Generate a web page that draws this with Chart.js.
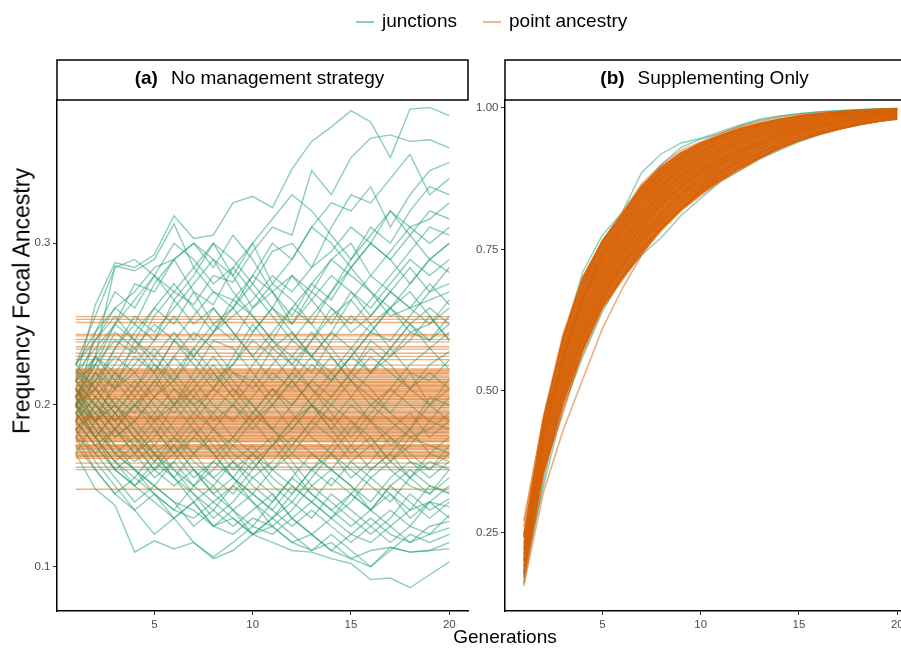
<!DOCTYPE html>
<html>
<head>
<meta charset="utf-8">
<script src="https://cdn.jsdelivr.net/npm/chart.js@4.4.1/dist/chart.umd.min.js"></script>
<style>
html, body { margin: 0; padding: 0; background: #fff; overflow: hidden; }
#fig { position: relative; width: 901px; height: 648px; overflow: hidden; font-family: "Liberation Sans", Arial, sans-serif; color: #000; }
#fig canvas { position: absolute; top: 0; }
#chartA { left: 0; }
#chartB { left: 470px; }
.key { position: absolute; top: 21px; width: 18px; height: 0; border-top: 2px solid; }
.lab { position: absolute; top: 9px; font-size: 19px; line-height: 24px; white-space: nowrap; }
#ytitle { position: absolute; left: 22px; top: 301px; transform: translate(-50%, -50%) rotate(-90deg); font-size: 23px; white-space: nowrap; }
#xtitle { position: absolute; left: 505px; top: 637px; transform: translate(-50%, -50%); font-size: 19px; white-space: nowrap; }
</style>
</head>
<body>
<div id="fig">
  <canvas id="chartA" width="470" height="648"></canvas>
  <canvas id="chartB" width="460" height="648"></canvas>
  <div class="key" style="left:356px;border-color:rgba(27,158,119,0.5)"></div>
  <div class="lab" style="left:382px">junctions</div>
  <div class="key" style="left:483px;border-color:rgba(217,95,2,0.45)"></div>
  <div class="lab" style="left:509px">point ancestry</div>
  <div id="ytitle">Frequency Focal Ancestry</div>
  <div id="xtitle">Generations</div>
</div>
<script>
// generations on the x axis
const generations = [1, 2, 3, 4, 5, 6, 7, 8, 9, 10, 11, 12, 13, 14, 15, 16, 17, 18, 19, 20];
const xTicks = [5, 10, 15, 20];

const yTicksA = [0.1, 0.2, 0.3];
const yTickLabelsA = ['0.1', '0.2', '0.3'];
const yTicksB = [0.25, 0.5, 0.75, 1.0];
const yTickLabelsB = ['0.25', '0.50', '0.75', '1.00'];

// (a) No management strategy - junctions, one row per replicate
const junctionsA = [
    [.215,.262,.288,.285,.293,.317,.303,.305,.325,.329,.322,.346,.363,.372,.382,.375,.353,.383,.384,.379],
    [.205,.225,.240,.232,.255,.270,.262,.280,.276,.295,.310,.305,.345,.330,.353,.365,.367,.363,.364,.359],
    [.198,.230,.286,.283,.290,.312,.285,.270,.265,.280,.300,.290,.310,.325,.320,.335,.310,.330,.345,.350],
    [.222,.210,.235,.250,.240,.265,.280,.300,.290,.275,.295,.300,.285,.310,.330,.325,.340,.355,.330,.340],
    [.190,.220,.210,.240,.260,.250,.270,.262,.285,.300,.275,.290,.310,.300,.285,.300,.320,.310,.315,.325],
    [.215,.240,.260,.250,.275,.290,.270,.250,.260,.245,.260,.280,.270,.290,.300,.280,.295,.310,.300,.310],
    [.200,.190,.215,.230,.220,.240,.255,.270,.260,.280,.270,.255,.275,.265,.285,.300,.290,.275,.290,.300],
    [.205,.225,.250,.275,.270,.290,.300,.285,.305,.290,.270,.280,.265,.250,.270,.260,.275,.290,.280,.290],
    [.185,.200,.220,.210,.230,.215,.235,.250,.240,.260,.275,.265,.250,.270,.285,.270,.260,.275,.290,.282],
    [.210,.200,.190,.205,.220,.240,.230,.215,.225,.245,.260,.250,.270,.260,.245,.255,.270,.285,.270,.275],
    [.200,.215,.230,.220,.205,.215,.230,.245,.265,.255,.240,.225,.240,.255,.265,.280,.270,.260,.265,.270],
    [.225,.245,.270,.260,.280,.265,.250,.260,.245,.230,.245,.260,.275,.290,.280,.270,.255,.260,.275,.262],
    [.195,.180,.195,.210,.225,.215,.200,.210,.230,.250,.235,.245,.230,.220,.235,.250,.260,.245,.240,.255],
    [.205,.230,.215,.200,.210,.230,.245,.235,.220,.210,.225,.240,.230,.245,.265,.250,.235,.250,.260,.250],
    [.170,.190,.205,.195,.215,.230,.215,.200,.190,.205,.220,.210,.225,.215,.230,.220,.235,.250,.235,.245],
    [.215,.200,.185,.200,.190,.175,.190,.205,.220,.215,.200,.215,.230,.245,.235,.220,.230,.240,.255,.240],
    [.190,.205,.220,.235,.250,.240,.225,.210,.200,.215,.235,.225,.210,.200,.215,.230,.220,.210,.225,.233],
    [.200,.220,.245,.235,.220,.200,.210,.190,.200,.185,.200,.215,.200,.190,.205,.220,.235,.220,.215,.228],
    [.210,.195,.210,.225,.240,.255,.240,.260,.245,.230,.215,.230,.245,.230,.215,.200,.210,.225,.235,.222],
    [.180,.170,.185,.200,.185,.170,.180,.195,.210,.200,.185,.200,.215,.205,.220,.235,.225,.210,.200,.216],
    [.225,.240,.255,.240,.225,.210,.195,.210,.225,.240,.230,.215,.200,.185,.200,.190,.205,.220,.200,.210],
    [.200,.185,.170,.180,.195,.210,.200,.185,.175,.190,.205,.220,.210,.195,.180,.195,.210,.200,.190,.205],
    [.215,.230,.220,.205,.190,.200,.215,.230,.215,.200,.185,.175,.190,.205,.220,.210,.195,.185,.205,.200],
    [.190,.175,.160,.170,.185,.170,.155,.165,.180,.195,.210,.195,.180,.170,.185,.200,.190,.180,.185,.195],
    [.205,.220,.200,.185,.170,.180,.195,.185,.170,.160,.175,.190,.205,.220,.205,.190,.175,.185,.200,.190],
    [.220,.205,.190,.200,.215,.200,.185,.170,.180,.195,.185,.170,.160,.175,.190,.180,.165,.175,.190,.185],
    [.195,.210,.195,.180,.165,.155,.170,.185,.200,.190,.175,.185,.200,.190,.175,.160,.170,.185,.170,.180],
    [.200,.180,.165,.150,.160,.175,.160,.145,.155,.170,.180,.165,.150,.160,.175,.190,.180,.165,.160,.175],
    [.185,.170,.155,.140,.150,.165,.180,.170,.155,.145,.160,.175,.190,.180,.165,.155,.165,.180,.175,.170],
    [.210,.195,.180,.190,.175,.160,.150,.160,.175,.165,.150,.140,.155,.170,.160,.150,.140,.155,.170,.165],
    [.205,.185,.170,.160,.145,.135,.150,.165,.155,.140,.130,.145,.160,.150,.165,.175,.160,.150,.145,.160],
    [.190,.175,.185,.170,.155,.165,.150,.140,.150,.165,.175,.160,.145,.135,.145,.160,.170,.155,.145,.155],
    [.215,.200,.185,.175,.160,.170,.185,.170,.155,.145,.135,.150,.140,.130,.140,.155,.145,.135,.140,.150],
    [.175,.160,.145,.155,.170,.160,.145,.130,.140,.155,.145,.130,.120,.130,.145,.135,.125,.135,.150,.146],
    [.200,.190,.175,.160,.150,.140,.125,.135,.150,.140,.125,.135,.150,.140,.130,.120,.130,.145,.135,.142],
    [.185,.165,.150,.135,.145,.130,.140,.125,.135,.120,.130,.140,.130,.145,.135,.125,.115,.125,.140,.137],
    [.195,.180,.165,.175,.160,.150,.160,.145,.135,.145,.135,.125,.135,.125,.115,.125,.135,.125,.120,.132],
    [.210,.190,.200,.185,.170,.155,.145,.135,.125,.135,.145,.130,.120,.110,.120,.130,.120,.115,.125,.128],
    [.170,.148,.138,.109,.116,.111,.115,.106,.115,.125,.120,.130,.140,.130,.120,.115,.125,.115,.120,.124],
    [.180,.160,.145,.135,.120,.130,.140,.125,.120,.130,.125,.115,.110,.120,.110,.100,.110,.120,.115,.120],
    [.190,.175,.160,.150,.140,.130,.115,.105,.110,.120,.130,.120,.110,.115,.105,.110,.112,.109,.110,.115],
    [.200,.180,.165,.155,.145,.135,.130,.140,.130,.120,.125,.115,.120,.110,.105,.100,.112,.109,.110,.111],
    [.205,.190,.170,.160,.150,.140,.135,.125,.130,.120,.115,.110,.109,.105,.102,.092,.093,.087,.095,.103],
    [.200,.210,.195,.180,.165,.175,.160,.150,.165,.175,.160,.150,.140,.155,.145,.135,.150,.160,.150,.145],
    [.225,.255,.285,.290,.280,.270,.285,.300,.280,.260,.270,.250,.265,.280,.270,.255,.270,.260,.250,.265],
    [.200,.245,.260,.270,.285,.290,.300,.290,.270,.255,.240,.260,.250,.235,.220,.240,.230,.245,.250,.260],
    [.195,.215,.235,.255,.245,.260,.275,.290,.280,.300,.315,.330,.320,.305,.290,.310,.300,.320,.335,.330],
    [.210,.230,.250,.265,.280,.300,.290,.275,.285,.270,.255,.240,.255,.270,.290,.305,.320,.305,.290,.300],
    [.180,.200,.185,.170,.180,.200,.220,.240,.235,.220,.205,.220,.240,.260,.250,.265,.280,.295,.310,.305],
    [.200,.180,.160,.150,.165,.180,.165,.155,.145,.160,.175,.190,.200,.215,.230,.245,.240,.255,.270,.285],
    [.225,.210,.195,.180,.170,.155,.140,.150,.135,.125,.140,.155,.170,.160,.150,.135,.145,.130,.140,.130],
    [.205,.190,.200,.215,.200,.185,.170,.155,.165,.150,.140,.155,.145,.135,.125,.135,.150,.140,.130,.140],
    [.190,.205,.190,.175,.190,.205,.190,.175,.160,.170,.155,.145,.160,.170,.155,.165,.180,.170,.160,.170],
    [.215,.225,.210,.220,.235,.220,.205,.220,.205,.190,.200,.185,.200,.185,.170,.180,.165,.155,.165,.160],
    [.200,.210,.225,.245,.260,.275,.260,.245,.260,.275,.260,.245,.230,.215,.230,.245,.260,.270,.255,.240],
    [.185,.195,.180,.190,.205,.195,.210,.225,.210,.195,.210,.200,.215,.230,.215,.205,.195,.210,.220,.210],
    [.210,.190,.175,.165,.175,.190,.205,.195,.180,.170,.160,.170,.185,.200,.190,.175,.185,.195,.180,.190],
    [.195,.180,.195,.210,.195,.180,.170,.180,.165,.155,.165,.180,.170,.160,.150,.140,.155,.165,.155,.165],
    [.220,.235,.250,.240,.230,.245,.230,.245,.255,.265,.280,.270,.285,.295,.310,.300,.290,.305,.320,.315],
    [.205,.215,.200,.190,.205,.220,.235,.220,.205,.225,.240,.230,.220,.240,.255,.245,.260,.250,.240,.250]
];

// (a) point ancestry stays flat: one level per replicate
const pointLevelsA = [
    .2546, .2530, .2510, .2437, .2427, .2406, .2390, .2360, .2345, .2320, .2300, .2280, .2247,
    .2223, .2215, .2210, .2200, .2195, .2186, .2178, .2170, .2160, .2155, .2146, .2140, .2135,
    .2126, .2120, .2115, .2105, .2098, .2090, .2085, .2078, .2068, .2062, .2055, .2050, .2041,
    .2035, .2030, .2020, .2012, .2005, .1998, .1994, .1985, .1980, .1970, .1962, .1955, .1948,
    .1938, .1930, .1924, .1918, .1915, .1907, .1900, .1895, .1887, .1880, .1875, .1866, .1860,
    .1855, .1848, .1845, .1835, .1830, .1825, .1815, .1810, .1804, .1795, .1790, .1783, .1776,
    .1772, .1755, .1748, .1742, .1735, .1728, .1722, .1712, .1705, .1698, .1690, .1685, .1680,
    .1670, .1640, .1615, .1600, .1479
];

// (b) Supplementing only - junctions
const junctionsB = [
    [.22,.45,.59,.71,.775,.815,.886,.919,.938,.946,.958,.970,.980,.986,.990,.993,.995,.997,.998,.999],
    [.20,.43,.57,.68,.765,.810,.860,.900,.930,.945,.955,.968,.978,.985,.990,.993,.995,.997,.998,.999],
    [.18,.33,.47,.56,.640,.700,.740,.771,.810,.840,.870,.890,.910,.925,.940,.952,.962,.970,.976,.980],
    [.17,.36,.48,.57,.650,.700,.755,.785,.820,.855,.884,.910,.920,.935,.948,.958,.966,.973,.978,.982],
    [.19,.41,.55,.66,.740,.790,.840,.875,.900,.922,.940,.952,.962,.970,.977,.983,.987,.990,.993,.995],
    [.16,.34,.49,.59,.665,.720,.770,.810,.845,.870,.890,.910,.928,.942,.954,.963,.970,.976,.980,.984],
    [.24,.44,.56,.67,.750,.800,.850,.885,.915,.935,.950,.962,.972,.980,.985,.989,.992,.995,.997,.998],
    [.21,.40,.52,.62,.700,.760,.810,.850,.880,.905,.925,.940,.953,.963,.971,.978,.984,.988,.991,.993],
    [.18,.37,.50,.60,.680,.745,.790,.830,.862,.888,.908,.925,.940,.952,.962,.970,.977,.982,.986,.989],
    [.20,.42,.56,.665,.745,.800,.845,.880,.910,.930,.945,.957,.967,.975,.982,.987,.990,.993,.995,.997]
];

// (b) point ancestry - individual replicates
const pointB = [
    [.270,.45,.59,.69,.76,.81,.855,.888,.912,.932,.948,.960,.970,.978,.985,.989,.992,.995,.997,.998],
    [.155,.32,.43,.52,.61,.68,.740,.788,.823,.853,.877,.897,.914,.929,.943,.954,.963,.970,.976,.981],
    [.160,.35,.47,.565,.645,.695,.742,.783,.818,.845,.870,.890,.910,.928,.943,.954,.963,.970,.976,.980],
    [.260,.455,.60,.70,.765,.815,.866,.900,.925,.940,.955,.967,.976,.983,.988,.991,.994,.996,.998,.999],
    [.200,.40,.53,.63,.71,.77,.810,.850,.880,.900,.920,.935,.948,.958,.967,.974,.980,.984,.988,.990],
    [.185,.38,.50,.60,.68,.74,.790,.830,.860,.885,.905,.922,.937,.950,.960,.968,.975,.980,.984,.987],
    [.220,.42,.555,.655,.73,.785,.830,.865,.895,.915,.932,.946,.958,.967,.975,.981,.986,.989,.992,.994],
    [.170,.36,.46,.575,.66,.72,.765,.800,.835,.862,.885,.905,.920,.935,.948,.958,.966,.973,.978,.983],
    [.240,.43,.56,.66,.735,.79,.840,.875,.905,.925,.940,.953,.963,.972,.979,.985,.989,.992,.994,.996],
    [.190,.39,.515,.61,.69,.755,.800,.840,.870,.892,.912,.928,.942,.954,.963,.971,.977,.982,.986,.989],
    [.210,.41,.54,.64,.72,.78,.820,.860,.890,.910,.927,.941,.953,.963,.971,.978,.983,.987,.990,.992],
    [.230,.37,.50,.59,.67,.73,.780,.815,.850,.875,.900,.918,.934,.947,.957,.966,.973,.979,.983,.986]
];
// (b) where the point ancestry replicates overlap into a solid band
const pointCoreLowB = [.175,.355,.478,.572,.648,.698,.745,.786,.820,.848,.872,.893,.912,.928,.942,.953,.962,.970,.976,.981];
const pointCoreHighB = [.245,.448,.595,.700,.765,.812,.862,.896,.921,.938,.952,.964,.973,.980,.986,.990,.993,.995,.997,.998];

const GREEN = 'rgba(27, 158, 119, 0.5)';
const ORANGE = 'rgba(217, 95, 2, 0.5)';

function series(values) {
    return values.map((y, i) => ({ x: generations[i], y: y }));
}

function flatLine(level) {
    return [{ x: generations[0], y: level }, { x: generations[generations.length - 1], y: level }];
}

function lineSet(data, color, width, order) {
    return {
        data: data,
        borderColor: color,
        borderWidth: width,
        pointRadius: 0,
        fill: false,
        tension: 0,
        order: order
    };
}

// facet strip drawn above the plot area
const stripPlugin = {
    id: 'strip',
    afterDraw(chart, args, opts) {
        const ctx = chart.ctx;
        const area = chart.chartArea;
        const top = 60, h = 40;
        ctx.save();
        ctx.fillStyle = '#fff';
        ctx.fillRect(area.left, top, area.right - area.left, h);
        ctx.strokeStyle = '#000';
        ctx.lineWidth = 1.5;
        ctx.strokeRect(area.left, top, area.right - area.left, h);
        ctx.fillStyle = '#000';
        ctx.textBaseline = 'middle';
        ctx.font = 'bold 19px "Liberation Sans", Arial, sans-serif';
        const tagW = ctx.measureText(opts.tag).width;
        ctx.font = '19px "Liberation Sans", Arial, sans-serif';
        const labW = ctx.measureText(opts.label).width;
        const gap = 13;
        let x = (area.left + area.right) / 2 + opts.shift - (tagW + gap + labW) / 2;
        ctx.font = 'bold 19px "Liberation Sans", Arial, sans-serif';
        ctx.fillText(opts.tag, x, top + 19);
        ctx.font = '19px "Liberation Sans", Arial, sans-serif';
        ctx.fillText(opts.label, x + tagW + gap, top + 19);
        ctx.restore();
    }
};

function makeOptions(cfg) {
    const tickFont = { family: '"Liberation Sans", Arial, sans-serif', size: 11.5 };
    return {
        responsive: false,
        animation: false,
        layout: { padding: { top: 100, right: cfg.padRight, bottom: 0, left: 0 } },
        plugins: {
            legend: { display: false },
            tooltip: { enabled: false },
            strip: { tag: cfg.tag, label: cfg.label, shift: cfg.shift }
        },
        scales: {
            x: {
                type: 'linear',
                min: 0.05,
                max: 20.95,
                afterBuildTicks: function(scale) {
                    scale.ticks = xTicks.map(v => ({ value: v }));
                },
                afterFit: function(scale) { scale.height = 37; },
                ticks: {
                    font: tickFont,
                    color: '#4d4d4d',
                    padding: 3,
                    maxRotation: 0,
                    callback: v => String(v)
                },
                grid: { display: true, drawOnChartArea: false, drawTicks: true, tickLength: 4, color: '#333' },
                border: { display: true, color: '#000', width: 1.5 }
            },
            y: {
                type: 'linear',
                min: cfg.yMin,
                max: cfg.yMax,
                afterBuildTicks: function(scale) {
                    scale.ticks = cfg.yTicks.map(v => ({ value: v }));
                },
                afterFit: function(scale) { scale.width = cfg.yWidth; },
                ticks: {
                    font: tickFont,
                    color: '#4d4d4d',
                    padding: 2.5,
                    callback: (v, i) => cfg.yLabels[i]
                },
                grid: { display: true, drawOnChartArea: false, drawTicks: true, tickLength: 4, color: '#333' },
                border: { display: true, color: '#000', width: 1.5 }
            }
        }
    };
}

// panel (a)
const datasetsA = [];
junctionsA.forEach(run => datasetsA.push(lineSet(series(run), GREEN, 1.4, 2)));
pointLevelsA.forEach(level => datasetsA.push(lineSet(flatLine(level), ORANGE, 1.3, 1)));

new Chart(document.getElementById('chartA'), {
    type: 'line',
    data: { datasets: datasetsA },
    options: makeOptions({
        tag: '(a)', label: 'No management strategy', shift: -3,
        padRight: 2, yWidth: 57,
        yMin: 0.0726, yMax: 0.3886, yTicks: yTicksA, yLabels: yTickLabelsA
    }),
    plugins: [stripPlugin]
});

// panel (b)
const datasetsB = [];
junctionsB.forEach(run => datasetsB.push(lineSet(series(run), GREEN, 1.4, 3)));
datasetsB.push(lineSet(series(pointCoreLowB), 'rgba(217, 95, 2, 0.9)', 1.5, 2));
const core = lineSet(series(pointCoreHighB), 'rgba(217, 95, 2, 0.9)', 1.5, 2);
core.fill = { target: datasetsB.length - 1 };
core.backgroundColor = 'rgba(217, 95, 2, 0.92)';
datasetsB.push(core);
pointB.forEach(run => datasetsB.push(lineSet(series(run), ORANGE, 1.6, 1)));

new Chart(document.getElementById('chartB'), {
    type: 'line',
    data: { datasets: datasetsB },
    options: makeOptions({
        tag: '(b)', label: 'Supplementing Only', shift: -6,
        padRight: 14, yWidth: 35,
        yMin: 0.111, yMax: 1.014, yTicks: yTicksB, yLabels: yTickLabelsB
    }),
    plugins: [stripPlugin]
});
</script>
</body>
</html>
